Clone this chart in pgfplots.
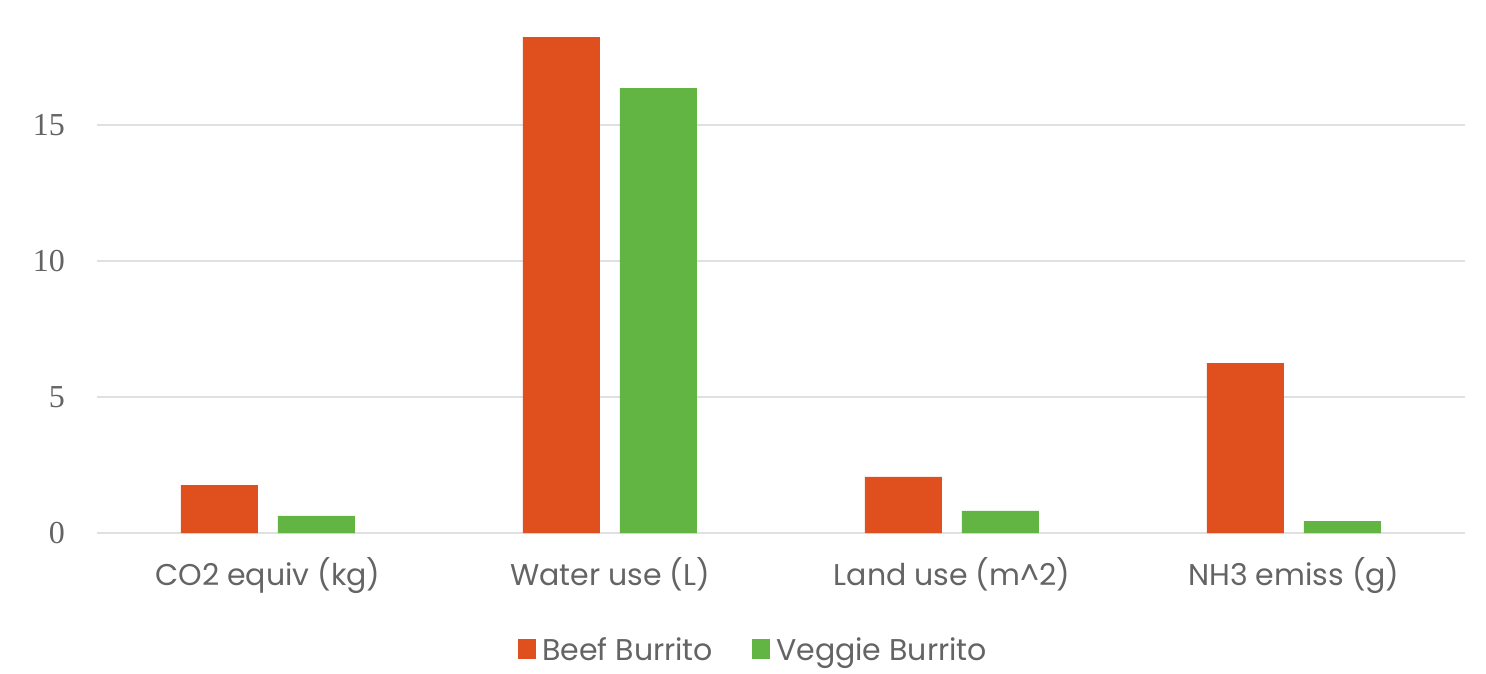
\documentclass[border=0pt]{standalone}
\usepackage{fontspec}
\setmainfont{Poppins}
\newfontfamily\serifnum{Liberation Serif}
\usepackage{pgfplots}
\pgfplotsset{compat=1.18}
\definecolor{beef}{RGB}{224,80,30}
\definecolor{veg}{RGB}{98,180,67}
\definecolor{gridc}{RGB}{224,224,224}
\definecolor{txt}{RGB}{100,100,100}
\begin{document}
\begin{tikzpicture}
\useasboundingbox (-97pt,-140pt) rectangle (1389pt,533pt);
\begin{axis}[
  at={(0pt,0pt)}, anchor=south west,
  scale only axis,
  width=1368pt, height=503pt,
  xmin=-0.5, xmax=3.5,
  ymin=0, ymax=18.5,
  axis line style={draw=none},
  ytick={0,5,10,15},
  xtick={0,1,2,3},
  xticklabels={CO2 equiv (kg), Water use (L), Land use (m\textasciicircum2), NH3 emiss (g)},
  major tick length=0pt,
  ymajorgrids,
  grid style={draw=gridc, line width=2.5pt},
  /pgf/number format/assume math mode=true,
  yticklabel style={font=\fontsize{32}{36}\selectfont\serifnum, text=txt, anchor=east, inner sep=0pt, xshift=-32pt},
  xticklabel style={font=\fontsize{30}{34}\selectfont, text=txt, anchor=base, yshift=-52pt},
  ybar,
  bar width=77pt,
  legend style={draw=none, at={(0.480,-0.2326)}, anchor=center, font=\fontsize{30}{34}\selectfont, text=txt, legend columns=2,
    /tikz/every odd column/.append style={column sep=4pt},
    /tikz/every even column/.append style={column sep=37pt}},
  legend image code/.code={\fill[#1,draw=none] (0pt,-9pt) rectangle (18pt,11pt);},
]
\addplot[fill=beef, draw=none, bar shift=-48.5pt] coordinates {(0,1.76) (1,18.24) (2,2.06) (3,6.25)};
\addplot[fill=veg, draw=none, bar shift=48.5pt] coordinates {(0,0.63) (1,16.36) (2,0.81) (3,0.44)};
\legend{Beef Burrito, Veggie Burrito}
\end{axis}
\end{tikzpicture}
\end{document}
